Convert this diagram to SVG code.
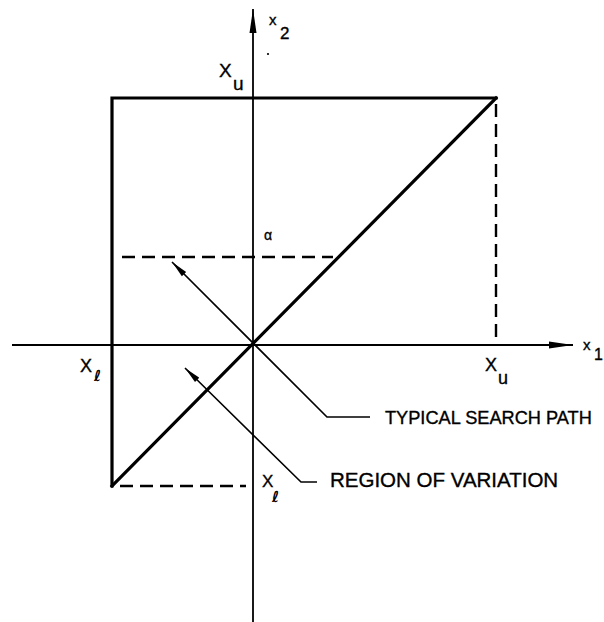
<svg xmlns="http://www.w3.org/2000/svg" width="604" height="622" viewBox="0 0 604 622">
  <style>
    .thick { stroke: #000; stroke-width: 3.2; fill: none; stroke-linecap: square; }
    .axis { stroke: #000; fill: none; }
    .dash { stroke: #000; stroke-width: 2.4; fill: none; stroke-dasharray: 13 7; }
    .thin { stroke: #000; stroke-width: 1.6; fill: none; }
    .lbl { font-family: "Liberation Sans", Arial, sans-serif; fill: #000; stroke: #000; stroke-width: 0.35; }
    .scr { font-family: "DejaVu Sans", sans-serif; fill: #000; font-style: italic; font-weight: bold; }
  </style>
  <defs>
    <marker id="axisHead" markerUnits="userSpaceOnUse" markerWidth="26" markerHeight="10" viewBox="0 -5 26 10" refX="24" refY="0" orient="auto">
      <path d="M0,-3.5 L24,0 L0,3.5 Z" fill="#000"/>
    </marker>
    <marker id="pathHead" markerUnits="userSpaceOnUse" markerWidth="18" markerHeight="8" viewBox="0 -4 18 8" refX="17" refY="0" orient="auto-start-reverse">
      <path d="M0,-3 L17,0 L0,3 Z" fill="#000"/>
    </marker>
  </defs>

  <g id="axes">
    <line class="axis" x1="12" y1="345" x2="573" y2="345" stroke-width="2.2" marker-end="url(#axisHead)"/>
    <line class="axis" x1="253" y1="622" x2="253" y2="9" stroke-width="1.8" marker-end="url(#axisHead)"/>
  </g>

  <g id="region-box">
    <polyline class="thick" points="112,486 112,98 496,98"/>
    <line class="thick" x1="496" y1="98" x2="112" y2="486"/>
    <line class="dash" x1="496" y1="104" x2="496" y2="343"/>
    <line class="dash" x1="120" y1="486" x2="246" y2="486"/>
    <line class="dash" x1="122" y1="257" x2="333" y2="257"/>
  </g>

  <g id="connectors">
    <polyline class="thin" points="172,262 327,417 370,417" marker-start="url(#pathHead)"/>
    <polyline class="thin" points="185,368 301,482 317,482" marker-start="url(#pathHead)"/>
  </g>

  <g id="labels">
    <text class="lbl" x="269" y="25" font-size="15">x</text>
    <text class="lbl" x="280" y="39" font-size="17">2</text>
    <circle cx="268" cy="54" r="1.1" fill="#000"/>
    <text class="lbl" x="219" y="77" font-size="19">X</text>
    <text class="lbl" x="233" y="90" font-size="19">u</text>

    <text class="lbl" x="583" y="350" font-size="15">x</text>
    <text class="lbl" x="594" y="360" font-size="16">1</text>

    <text class="lbl" x="485" y="371" font-size="18">X</text>
    <text class="lbl" x="498" y="384" font-size="18">u</text>

    <text class="lbl" x="80" y="372" font-size="18">X</text>
    <text class="scr" x="94" y="381" font-size="15">ℓ</text>

    <text class="lbl" x="262" y="487" font-size="17">X</text>
    <text class="scr" x="272" y="502" font-size="15">ℓ</text>

    <text class="lbl" x="264" y="240" font-size="14">α</text>
  </g>

  <g id="node-typical-search-path">
    <text class="lbl" x="385" y="424" font-size="18.2">TYPICAL SEARCH PATH</text>
  </g>
  <g id="node-region-of-variation">
    <text class="lbl" x="330" y="487" font-size="20.5">REGION OF VARIATION</text>
  </g>
</svg>
